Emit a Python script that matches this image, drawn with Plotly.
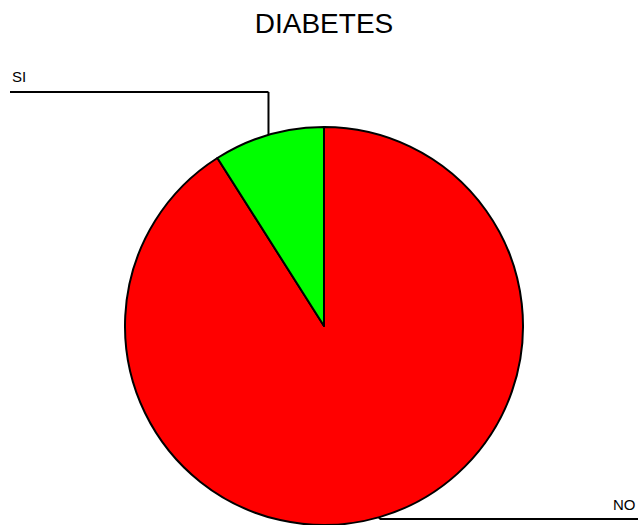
import math
import plotly.graph_objects as go

labels = ["NO", "SI"]
values = [91, 9]
colors = ["#ff0000", "#00ff00"]

W, H = 641, 525
# plot area in reference pixels: x 125..523, y 127..525
ml, mr, mt, mb = 125, W - 523, 127, 0
pw, ph = W - ml - mr, H - mt - mb

fig = go.Figure(go.Pie(
    labels=labels, values=values, sort=False, direction="clockwise",
    rotation=0, textinfo="none", hoverinfo="label+value+percent",
    marker=dict(colors=colors, line=dict(color="black", width=2)),
    showlegend=False,
))

def px_to_paper(x, y):
    return (x - ml) / pw, (H - y - mb) / ph

total = sum(values)
cum = 0
shapes, annos = [], []
lw = dict(color="black", width=2)
for lab, v in zip(labels, values):
    mid = (cum + v / 2) / total * 2 * math.pi  # angle from top, clockwise
    cum += v
    ex = 0.5 + 0.5 * math.sin(mid)
    ey = 0.5 + 0.5 * math.cos(mid)
    if ey > 0.5:
        hx, hy = px_to_paper(10, 92)
        tx, ty = px_to_paper(10, 76)
        anchor = "left"
    else:
        hx, hy = px_to_paper(638, 519)
        tx, ty = px_to_paper(638, 504)
        anchor = "right"
    shapes.append(dict(type="line", xref="paper", yref="paper", x0=ex, y0=ey, x1=ex, y1=hy, line=lw))
    shapes.append(dict(type="line", xref="paper", yref="paper", x0=ex, y0=hy, x1=hx, y1=hy, line=lw))
    annos.append(dict(text=lab, x=tx, y=ty, xref="paper", yref="paper", showarrow=False,
                      xanchor=anchor, yanchor="middle", font=dict(size=15, color="black")))

fig.update_layout(
    width=W, height=H,
    margin=dict(l=ml, r=mr, t=mt, b=mb),
    paper_bgcolor="white", plot_bgcolor="white",
    font=dict(family="Liberation Sans, Arial, sans-serif", color="black"),
    title=dict(text="DIABETES", x=324 / W, xref="container", xanchor="center",
               y=1 - 23 / H, yref="container", yanchor="middle",
               font=dict(size=28, color="black")),
    shapes=shapes, annotations=annos,
)

fig.write_html(
    "out.html",
    config={"displayModeBar": False},
    post_script=("document.documentElement.style.margin='0';document.body.style.margin='0';"
                 "document.documentElement.style.overflow='hidden';document.body.style.overflow='hidden';"),
)
